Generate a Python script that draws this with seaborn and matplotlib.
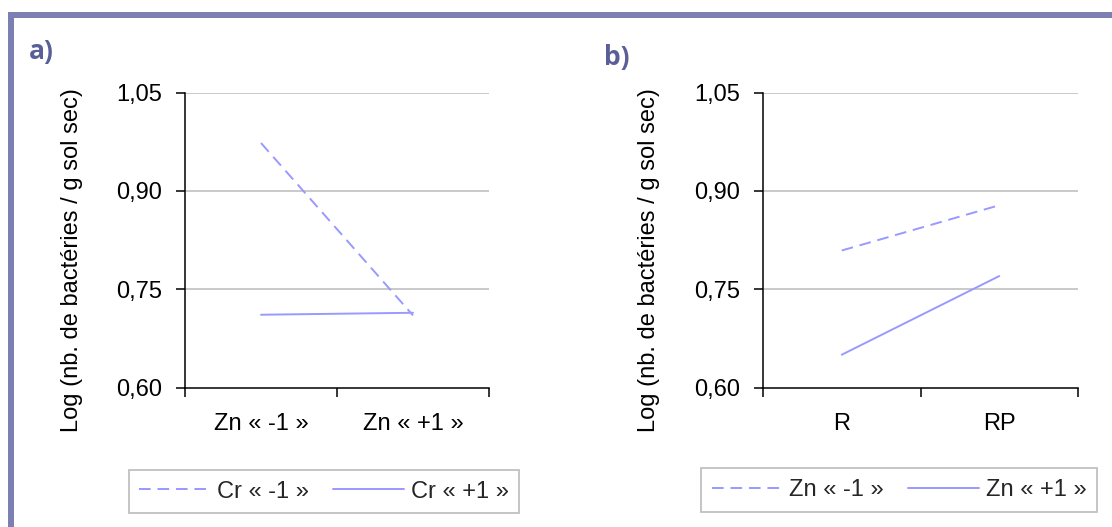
import matplotlib
matplotlib.use("Agg")
import matplotlib.pyplot as plt
import seaborn as sns
import pandas as pd
from matplotlib.patches import Rectangle

# ---- data ----
cat_a = ["Zn « -1 »", "Zn « +1 »"]
cr_m1 = [0.973, 0.710]
cr_p1 = [0.711, 0.714]
series_a = ["Cr « -1 »", "Cr « +1 »"]

cat_b = ["R", "RP"]
zn_m1 = [0.809, 0.878]
zn_p1 = [0.650, 0.770]
series_b = ["Zn « -1 »", "Zn « +1 »"]

yticks = [0.60, 0.75, 0.90, 1.05]
ytick_labels = ["0,60", "0,75", "0,90", "1,05"]
ylabel = "Log (nb. de bactéries / g sol sec)"
panel_labels = ["a)", "b)"]

sns.set_theme(style="white")
plt.rcParams["font.family"] = ["Liberation Sans", "DejaVu Sans"]

LINE = "#9999ff"
GRID = "#c0c0c0"
FRAME = "#7b7fb2"
FS = 17

fig = plt.figure(figsize=(11.12, 5.27), dpi=100)
W, H = 1112, 527

def px(x0, y0, x1, y1):
    return [x0 / W, 1 - y1 / H, (x1 - x0) / W, (y1 - y0) / H]

ax_a = fig.add_axes(px(185, 92.5, 489, 387.5))
ax_b = fig.add_axes(px(763, 92.5, 1078, 387.5))

def draw(ax, cats, s1, s2, names, leg_center, lab_x):
    df1 = pd.DataFrame({"x": cats, "y": s1})
    df2 = pd.DataFrame({"x": cats, "y": s2})
    sns.lineplot(data=df1, x="x", y="y", ax=ax, color=LINE, lw=1.4,
                 linestyle=(0, (6, 3.5)), sort=False, label=names[0])
    sns.lineplot(data=df2, x="x", y="y", ax=ax, color=LINE, lw=1.4,
                 sort=False, label=names[1])
    ax.set_xlim(-0.5, 1.5)
    ax.set_ylim(0.60, 1.05)
    ax.set_yticks(yticks)
    ax.set_yticklabels(ytick_labels)
    ax.set_xticks([0, 1])
    ax.set_xticklabels(cats)
    ax.set_xticks([-0.5, 0.5, 1.5], minor=True)
    ax.tick_params(axis="x", which="major", length=0, pad=18, labelsize=FS, colors="black")
    ax.tick_params(axis="x", which="minor", length=6.5, width=1.1, direction="out",
                   bottom=True, color="black")
    ax.tick_params(axis="y", which="major", length=6.5, width=1.1, direction="out",
                   left=True, pad=10, labelsize=FS, colors="black")
    for y in yticks[1:]:
        ax.axhline(y, color=GRID, lw=1.2, zorder=0)
    for s in ["top", "right"]:
        ax.spines[s].set_visible(False)
    for s in ["left", "bottom"]:
        ax.spines[s].set_color("black")
        ax.spines[s].set_linewidth(1.1)
        ax.spines[s].set_zorder(5)
    ax.set_xlabel("")
    ax.set_ylabel(ylabel, fontsize=FS, color="black")
    ax.yaxis.set_label_coords(lab_x, 0.433)
    ax.legend(loc="center", bbox_to_anchor=leg_center, bbox_transform=fig.transFigure,
              ncol=2, fontsize=FS, frameon=True, fancybox=False, edgecolor=GRID,
              framealpha=1, handlelength=3.0, handletextpad=0.3, columnspacing=1.0,
              borderpad=0.45, borderaxespad=0)
    ax.get_legend().get_frame().set_linewidth(1.3)

draw(ax_a, cat_a, cr_m1, cr_p1, series_a, (324 / W, 1 - 491.5 / H), -0.336)
draw(ax_b, cat_b, zn_m1, zn_p1, series_b, (899 / W, 1 - 490 / H), -0.326)

# decorative frame (left and top bars)
fig.patches.append(Rectangle((8 / W, 0), 6 / W, 1 - 12 / H, transform=fig.transFigure,
                             color=FRAME, lw=0, zorder=10))
fig.patches.append(Rectangle((8 / W, 1 - 18 / H), 1 - 8 / W, 6 / H, transform=fig.transFigure,
                             color=FRAME, lw=0, zorder=10))

fig.text(29 / W, 1 - 51 / H, panel_labels[0], fontsize=19, fontweight="bold",
         color="#5b5f97", family=["Open Sans", "DejaVu Sans"], ha="left", va="center")
fig.text(604 / W, 1 - 57 / H, panel_labels[1], fontsize=19, fontweight="bold",
         color="#5b5f97", family=["Open Sans", "DejaVu Sans"], ha="left", va="center")

fig.savefig("out.png", dpi=100, facecolor="white")
